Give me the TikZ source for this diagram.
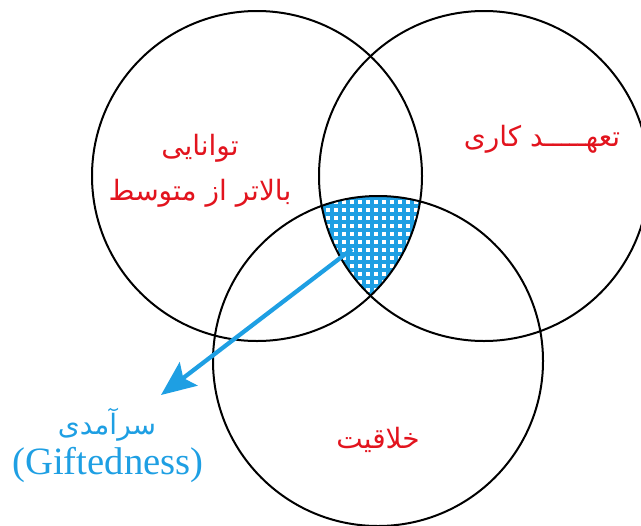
\documentclass[tikz,border=0pt]{standalone}
\usepackage{fontspec}
\setmainfont{Liberation Serif}
\newfontfamily\arabicfont[Script=Arabic]{DejaVu Sans}
\TeXXeTstate=1
\usetikzlibrary{arrows.meta}

\begin{document}
\begin{tikzpicture}[x=0.75pt,y=-0.75pt]
\definecolor{traitRed}{HTML}{E2141E}
\definecolor{giftBlue}{HTML}{1E9FE3}
\tikzset{
  ring/.style={line width=1.5pt},
  mesh/.style={giftBlue,line width=2.8pt},
  trait/.style={text=traitRed,font=\arabicfont\fontsize{21}{34}\selectfont,align=center},
  giftlabel/.style={text=giftBlue,align=center},
  pointer/.style={giftBlue,line width=3.2pt,-{Stealth[length=26pt,width=22pt,inset=5pt]}}
}
\useasboundingbox (0,0) rectangle (641,525);
\clip (0,0) rectangle (641,525);
\coordinate (ability) at (257,176);
\coordinate (commit) at (484,176);
\coordinate (create) at (378,361);
% shared region of the three rings
\begin{scope}
  \clip (ability) circle (165);
  \clip (commit) circle (165);
  \clip (create) circle (165);
  \fill[white] (310,190) rectangle (430,300);
  \foreach \x in {316,324,...,430} \draw[mesh] (\x,190) -- (\x,300);
  \foreach \y in {190,198,...,300} \draw[mesh] (310,\y) -- (430,\y);
\end{scope}
\draw[ring] (ability) circle (165);
\draw[ring] (commit) circle (165);
\draw[ring] (create) circle (165);
\node[trait] (abilityText) at (200,171) {\beginR توانایی\endR\\\beginR بالاتر از متوسط\endR};
\node[trait] (commitText) at (542,139) {\beginR تعهـــــد کاری\endR};
\node[trait] (createText) at (378,440) {\beginR خلاقیت\endR};
\node[giftlabel,font=\arabicfont\fontsize{21}{24}\selectfont] (giftFa) at (107,425) {\beginR سرآمدی\endR};
\node[giftlabel,font=\fontsize{29}{32}\selectfont] (giftEn) at (108,465) {(Giftedness)};
\coordinate (core) at (352,249);
\coordinate (tip) at (161,395);
\draw[pointer] (core) -- (tip);
\end{tikzpicture}
\end{document}
